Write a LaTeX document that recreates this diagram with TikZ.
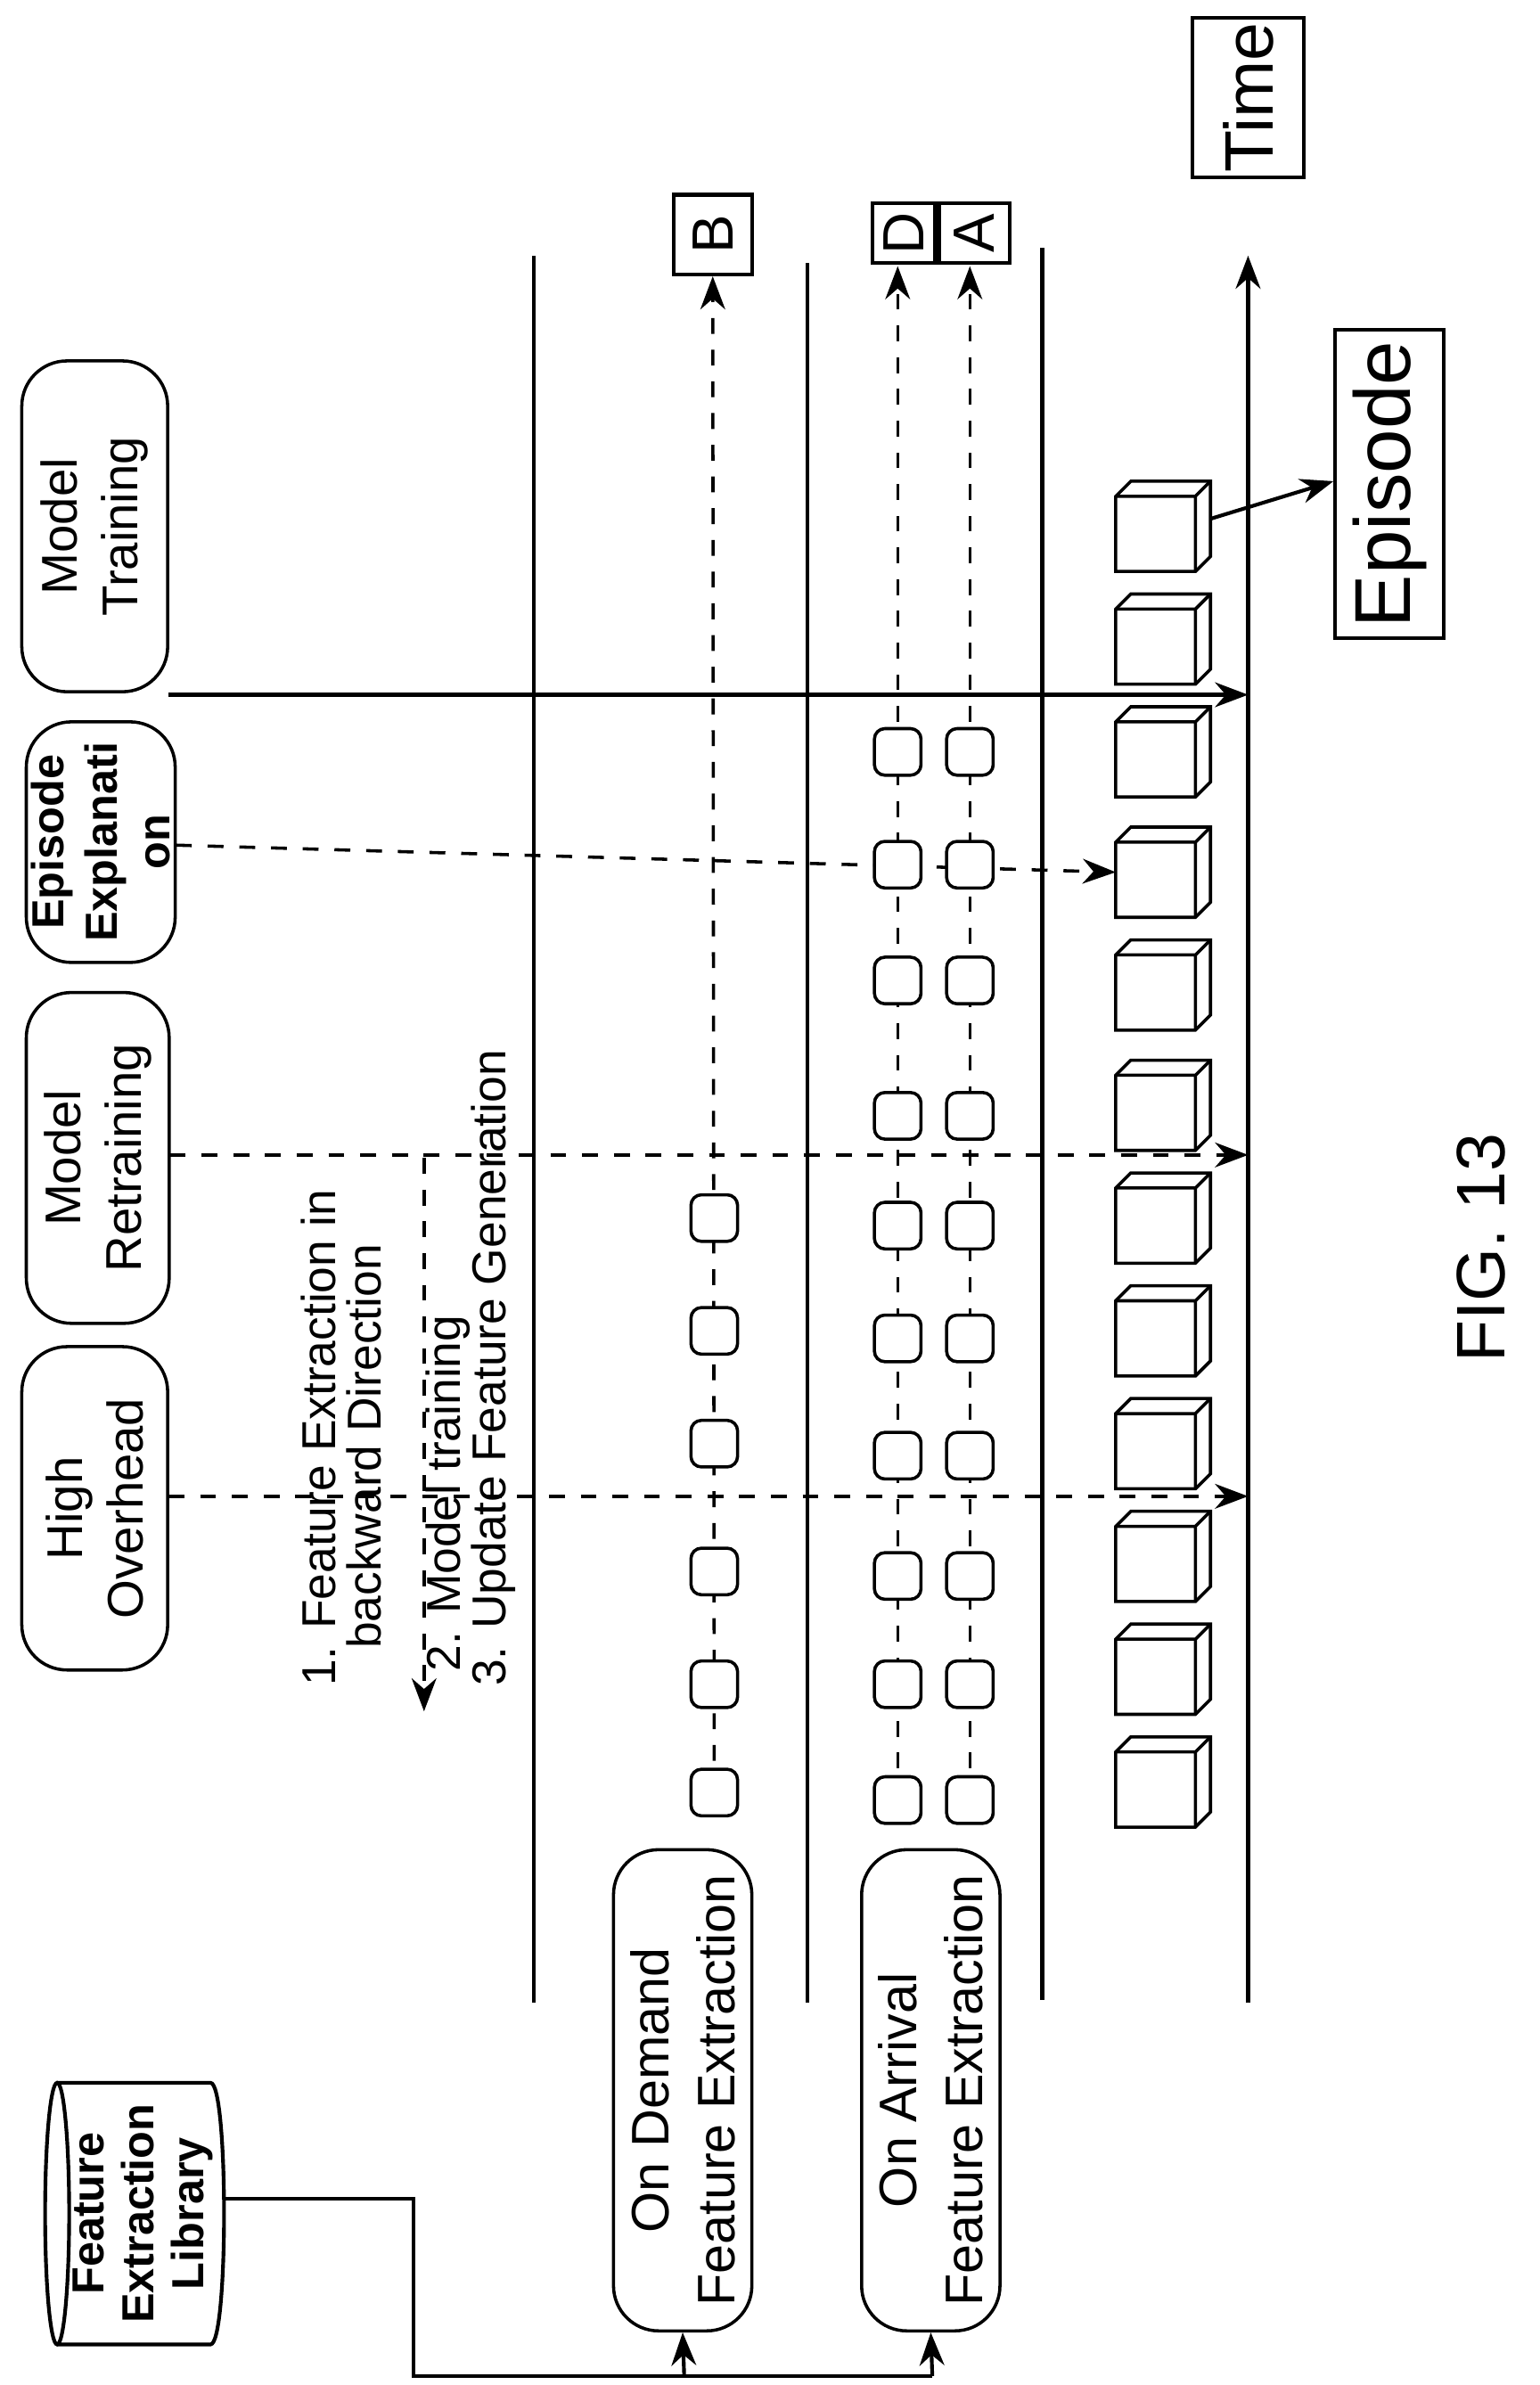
\documentclass[tikz,border=0pt]{standalone}
\usepackage{fontspec}
\setmainfont{Liberation Sans}
\usetikzlibrary{shapes.geometric,arrows.meta}
\begin{document}
\begin{tikzpicture}[x=0.1mm,y=-0.1mm,
  box/.style={draw,rounded corners=3mm,rotate=90,align=center,inner sep=0pt,font=\fontsize{9.5}{11.5}\selectfont,line width=0.6pt},
  sq/.style={draw,rounded corners=0.7mm,minimum width=3.1mm,minimum height=3.1mm,inner sep=0pt,fill=white,line width=0.6pt},
  dsh/.style={dashed,line width=0.6pt},
  arr/.style={-{Stealth[length=2.2mm]}},
  ln/.style={line width=0.8pt},
  bt/.style={rotate=90,align=left,anchor=west,font=\fontsize{9}{10.5}\selectfont,inner sep=0pt}]
\useasboundingbox (0,0) rectangle (1024,1586);
% lanes
\draw[ln] (355,170) -- (355,1332);
\draw[ln] (537,175) -- (537,1332);
\draw[ln] (693,165) -- (693,1330);
\draw[ln,arr] (830,1332) -- (830,170);
% top boxes
\node[box,minimum width=22mm,minimum height=9.7mm] (mt) at (63,350) {Model\\Training};
\node[box,minimum width=16mm,minimum height=9.9mm,font=\bfseries\fontsize{8.5}{10}\selectfont] (ee) at (67,560) {Episode\\Explanati\\on};
\node[box,minimum width=22mm,minimum height=9.5mm] (mr) at (65,770) {Model\\Retraining};
\node[box,minimum width=21.5mm,minimum height=9.7mm] (ho) at (63,1003) {High\\Overhead};
% cubes
\foreach \c [count=\i] in {1185,1110,1035,960,885,810,735,655,580,500,425,350}{
  \draw[line width=0.6pt,fill=white] (742,\c-20) -- (752,\c-30) -- (805,\c-30) -- (805,\c+20) -- (795,\c+30) -- (742,\c+30) -- cycle;
  \draw[line width=0.6pt] (742,\c-20) -- (795,\c-20) -- (805,\c-30) (795,\c-20) -- (795,\c+30);
  \coordinate (cube\i) at (742,\c);
}
\coordinate (cubeE) at (805,345);
% arrows from boxes
\coordinate (t1) at (830,462);
\coordinate (t2) at (830,768);
\coordinate (t3) at (830,995);
\draw[line width=0.7pt,arr] (112,462) -- (t1);
\draw[dsh,arr] (117,562) -- (cube9);
\draw[dsh,arr] (113,768) -- (t2);
\draw[dsh,arr] (112,995) -- (t3);
% backward arrow and text
\coordinate (bk1) at (282,770);
\coordinate (bk2) at (282,1138);
\draw[dsh,arr] (bk1) -- (bk2);
\node[bt] (l1) at (212,1122) {1. Feature Extraction in};
\node[bt] (l2) at (242,1097) {backward Direction};
\node[bt] (l3) at (298,1112) {2. Model training};
\node[bt] (l4) at (328,1122) {3. Update Feature Generation};
% lane boxes
\node[box,minimum width=32mm,minimum height=9.2mm,font=\fontsize{10}{12.5}\selectfont] (od) at (454,1390) {On Demand\\Feature Extraction};
\node[box,minimum width=32mm,minimum height=9.2mm,font=\fontsize{10}{12.5}\selectfont] (oa) at (619,1390) {On Arrival\\Feature Extraction};
% B row
\node[draw,minimum width=5.2mm,minimum height=5.3mm,inner sep=0pt,line width=0.7pt] (B) at (474,156) {\rotatebox{90}{\fontsize{11}{11}\selectfont B}};
\draw[dsh,arr] (475,1192) -- (B.south);
\foreach \y in {1192,1120,1045,960,885,810}{\node[sq] at (475,\y) {};}
% D A
\node[draw,minimum width=4.2mm,minimum height=4mm,inner sep=0pt,line width=0.7pt] (D) at (601,155) {\rotatebox{90}{\fontsize{11}{11}\selectfont D}};
\node[draw,minimum width=4.7mm,minimum height=4mm,inner sep=0pt,line width=0.7pt] (A) at (648,155) {\rotatebox{90}{\fontsize{11}{11}\selectfont A}};
\draw[dsh,arr] (597,1197) -- (597,177);
\draw[dsh,arr] (645,1197) -- (645,177);
\foreach \y in {1197,1120,1048,968,890,815,742,652,575,500}{\node[sq] at (597,\y) {};\node[sq] at (645,\y) {};}
% library
\draw[line width=0.7pt] (38,1472) ellipse [x radius=8,y radius=87];
\draw[line width=0.7pt] (38,1385) -- (140,1385) .. controls (152,1385) and (152,1559) .. (140,1559) -- (38,1559);
\node[rotate=90,align=center,font=\bfseries\fontsize{8.5}{9.5}\selectfont] (lib) at (95,1472) {Feature\\Extraction\\Library};
\coordinate (j0) at (149,1462);
\coordinate (j1) at (275,1462);
\coordinate (j2) at (275,1580);
\coordinate (j3) at (455,1580);
\coordinate (j4) at (620,1580);
\draw[line width=0.7pt] (j0) -- (j1) -- (j2) -- (j4);
\draw[line width=0.7pt,arr] (j3) -- (od.west);
\draw[line width=0.7pt,arr] (j4) -- (oa.west);
% Episode, Time
\node[draw,minimum width=7.2mm,minimum height=20.5mm,inner sep=0pt,line width=0.7pt] (ep) at (924,322) {\rotatebox{90}{\fontsize{15}{15}\selectfont Episode}};
\draw[line width=0.7pt,arr] (cubeE) -- (ep.west|-0,320);
\node[draw,minimum width=7.4mm,minimum height=10.6mm,inner sep=0pt,line width=0.7pt] (tm) at (830,65) {\rotatebox{90}{\fontsize{13}{13}\selectfont Time}};
\node[rotate=90,font=\fontsize{13}{13}\selectfont] (fig) at (985,830) {FIG. 13};
\end{tikzpicture}
\end{document}
